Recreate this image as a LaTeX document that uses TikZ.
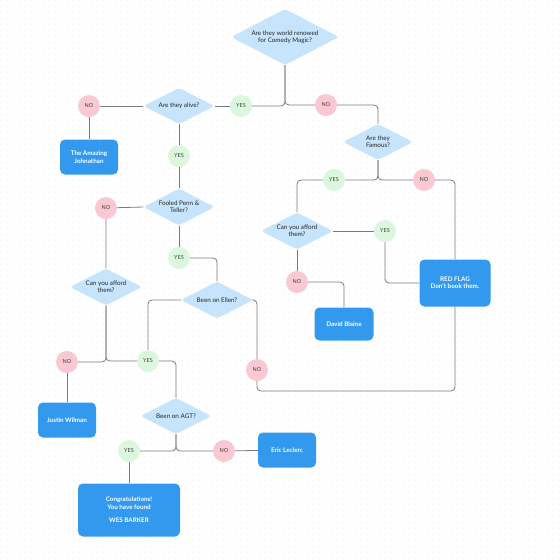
\documentclass[tikz,border=0pt]{standalone}
\usepackage{fontspec}
\setmainfont{Lato}
\usepackage{tikz}
\usetikzlibrary{shapes,positioning,patterns}
\definecolor{qblue}{HTML}{C6E4FB}
\definecolor{ablue}{HTML}{3399EE}
\definecolor{yesgreen}{HTML}{DBF8DF}
\definecolor{nopink}{HTML}{F9C8D2}
\definecolor{wire}{HTML}{7A7A7A}
\pgfdeclarepatternformonly{grid dots}{\pgfpointorigin}{\pgfpoint{6pt}{6pt}}{\pgfpoint{6pt}{6pt}}{
  \pgfpathcircle{\pgfpoint{3pt}{3pt}}{0.45pt}\pgfusepath{fill}}

\begin{document}
\begin{tikzpicture}[x=1pt, y=-1pt,
    question style/.style={diamond, fill=qblue, rounded corners=3pt, inner sep=0pt,
        minimum width=72pt, minimum height=37pt,
        label={[align=center, font=\fontsize{6.3}{7.4}\selectfont, text=black!85]center:#1}},
    yes style/.style={circle, fill=yesgreen, minimum size=22pt, inner sep=0pt, font=\fontsize{5.5}{6}\selectfont, text=black!75},
    no style/.style={circle, fill=nopink, minimum size=22pt, inner sep=0pt, font=\fontsize{5.5}{6}\selectfont, text=black!75},
    answer style/.style={rectangle, rounded corners=5pt, fill=ablue, text=white, align=center,
        font=\bfseries\fontsize{6.3}{7.4}\selectfont, minimum width=58pt, minimum height=35pt, inner sep=1pt},
    line style/.style={draw=wire, line width=0.8pt, rounded corners=4pt}
]
% page and dotted background
\fill[white] (0,0) rectangle (560,560);
\fill[pattern=grid dots, pattern color=gray!22] (0,0) rectangle (560,560);
\useasboundingbox (0,0) rectangle (560,560);

% questions
\node[question style={Are they world renowed\\for Comedy Magic?}, minimum width=108pt, minimum height=56pt] (world) at (285,37) {};
\node[question style={Are they alive?}, minimum width=71pt, minimum height=36pt] (alive) at (179,106) {};
\node[question style={Are they\\Famous?}, minimum width=70pt, minimum height=36pt] (famous) at (378,142) {};
\node[question style={Fooled Penn \&\\Teller?}, minimum width=71pt, minimum height=37pt] (fooled) at (179,207) {};
\node[question style={Can you afford\\them?}] (affordR) at (297,231) {};
\node[question style={Can you afford\\them?}] (affordL) at (106,287) {};
\node[question style={Been on Ellen?}] (ellen) at (217,300) {};
\node[question style={Been on AGT?}, minimum width=71pt, minimum height=36pt] (agt) at (176,416) {};

% answers
\node[answer style] (amazing) at (89,157) {The Amazing\\Johnathan};
\node[answer style, minimum width=71pt, minimum height=47pt] (redflag) at (455,283) {RED FLAG\\Don't book them.};
\node[answer style, minimum width=59pt, minimum height=33pt] (blaine) at (344,324) {David Blaine};
\node[answer style] (wilman) at (67,420) {Justin Wilman};
\node[answer style] (eric) at (287,450) {Eric Leclerc};
\node[answer style, minimum width=102pt, minimum height=53pt] (congrats) at (129,510) {Congratulations!\\You have found\\[6pt]WES BARKER};

% yes / no
\node[yes style] (yes1) at (241,106) {YES};
\node[no style] (no1) at (326,105) {NO};
\node[no style] (no2) at (89,106) {NO};
\node[yes style] (yes2) at (179,156) {YES};
\node[yes style] (yes3) at (334,180) {YES};
\node[no style] (no3) at (424,180) {NO};
\node[yes style] (yes4) at (385,231) {YES};
\node[no style] (no4) at (297,282) {NO};
\node[no style] (no5) at (106,208) {NO};
\node[yes style] (yes5) at (179,258) {YES};
\node[no style] (no6) at (257,370) {NO};
\node[no style] (no7) at (67,362) {NO};
\node[yes style] (yes6) at (148,361) {YES};
\node[yes style] (yes7) at (129,451) {YES};
\node[no style] (no8) at (224,451) {NO};
\coordinate (loop) at (257,391);

% connectors
\draw[line style] (world.south) |- (yes1);
\draw[line style] (world.south) |- (no1);
\draw[line style] (yes1) -- (alive.east);
\draw[line style] (alive.west) -- (no2) -- (amazing);
\draw[line style] (alive.south) -- (yes2) -- (fooled.north);
\draw[line style] (no1) -| (famous.north);
\draw[line style] (famous.south) |- (yes3);
\draw[line style] (yes3) -| (affordR.north);
\draw[line style] (famous.south) |- (no3);
\draw[line style] (no3) -| (redflag.north);
\draw[line style] (affordR.east) -- (yes4);
\draw[line style] (yes4) |- (redflag.west);
\draw[line style] (affordR.south) -- (no4);
\draw[line style] (no4) -| (blaine.north);
\draw[line style] (fooled.west) -- (no5) -- (affordL.north);
\draw[line style] (fooled.south) -- (yes5);
\draw[line style] (yes5) -| (ellen.north);
\draw[line style] (ellen.west) -| (yes6);
\draw[line style] (ellen.east) -| (no6);
\draw[line style] (no6) -- (loop) -| (redflag.south);
\draw[line style] (affordL.south) |- (no7);
\draw[line style] (affordL.south) |- (yes6);
\draw[line style] (no7) -- (wilman);
\draw[line style] (yes6) -| (agt.north);
\draw[line style] (agt.south) |- (yes7);
\draw[line style] (agt.south) |- (no8);
\draw[line style] (yes7) -- (congrats);
\draw[line style] (no8) -- (eric);
\end{tikzpicture}
\end{document}
